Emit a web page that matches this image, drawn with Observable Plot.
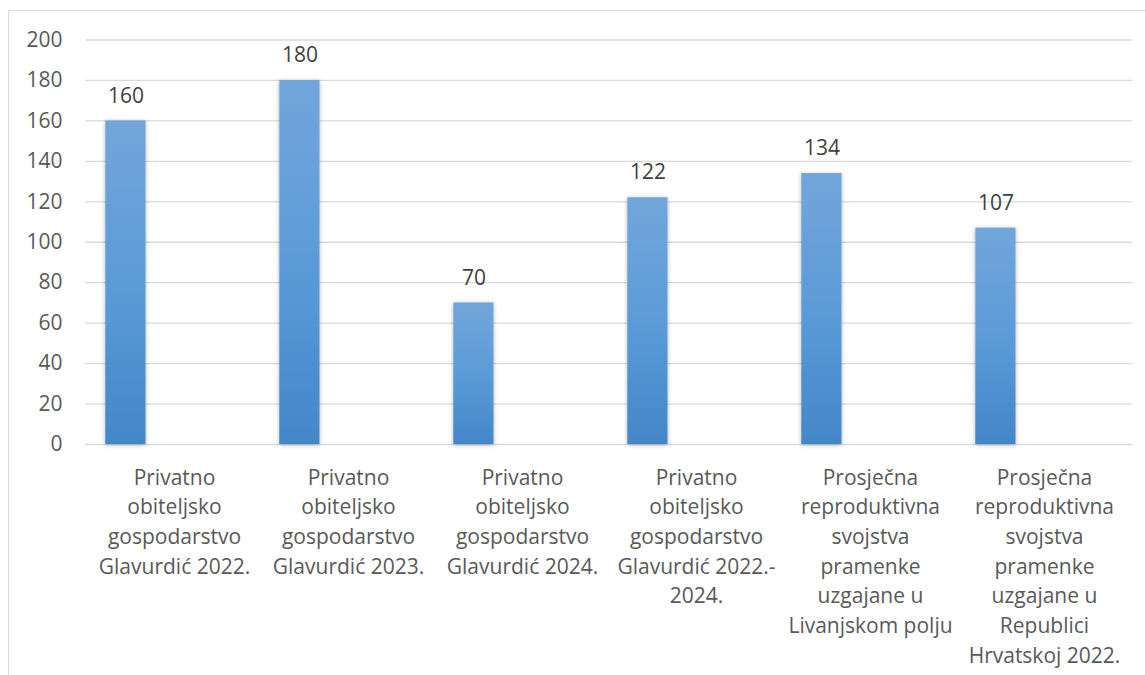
<!DOCTYPE html>
<html><head><meta charset="utf-8">
<script src="https://cdn.jsdelivr.net/npm/d3@7"></script>
<script src="https://cdn.jsdelivr.net/npm/@observablehq/plot@0.6"></script>
<style>
body{margin:0;background:#fff;}
#wrap{position:relative;width:1145px;height:675px;overflow:hidden;}
#frame{position:absolute;left:8px;top:10px;width:1200px;height:720px;border:1px solid #d9d9d9;box-sizing:border-box;}
#chart{position:absolute;left:0;top:0;}
</style></head><body><div id="wrap"><div id="frame"></div><div id="chart"></div></div>
<script>
const categories = [
  "Privatno\nobiteljsko\ngospodarstvo\nGlavurdić 2022.",
  "Privatno\nobiteljsko\ngospodarstvo\nGlavurdić 2023.",
  "Privatno\nobiteljsko\ngospodarstvo\nGlavurdić 2024.",
  "Privatno\nobiteljsko\ngospodarstvo\nGlavurdić 2022.-\n2024.",
  "Prosječna\nreproduktivna\nsvojstva\npramenke\nuzgajane u\nLivanjskom polju",
  "Prosječna\nreproduktivna\nsvojstva\npramenke\nuzgajane u\nRepublici\nHrvatskoj 2022."
];
const values = [160, 180, 70, 122, 134, 107];
const yTicks = [0, 20, 40, 60, 80, 100, 120, 140, 160, 180, 200];

const data = categories.map((c, i) => ({category: c, value: values[i]}));

const bandW = (1132 - 85) / 6;
const barOff = 18.3, barW = 40.7;

const defs = () => {
  const g = d3.create("svg:defs");
  const lg = g.append("linearGradient").attr("id", "barGrad")
    .attr("x1", 0).attr("y1", 0).attr("x2", 0).attr("y2", 1);
  lg.append("stop").attr("offset", "0%").attr("stop-color", "#72a6da");
  lg.append("stop").attr("offset", "50%").attr("stop-color", "#5c9bd8");
  lg.append("stop").attr("offset", "100%").attr("stop-color", "#4387c8");
  const f = g.append("filter").attr("id", "shadow")
    .attr("x", "-30%").attr("y", "-10%").attr("width", "160%").attr("height", "120%");
  f.append("feDropShadow").attr("dx", 0).attr("dy", 1).attr("stdDeviation", 2)
    .attr("flood-color", "#000").attr("flood-opacity", 0.3);
  return g.node();
};

const chart = Plot.plot({
  width: 1145,
  height: 675,
  marginLeft: 85,
  marginRight: 13,
  marginTop: 39.5,
  marginBottom: 231,
  style: {fontFamily: "'Open Sans', sans-serif", fontSize: "21px", color: "#595959", background: "transparent"},
  x: {domain: categories, padding: 0, axis: null},
  y: {domain: [0, 200], axis: null},
  marks: [
    defs,
    Plot.gridY(yTicks, {stroke: "#d9d9d9", strokeOpacity: 1, strokeWidth: 1.3}),
    Plot.axisY(yTicks, {tickSize: 0, tickPadding: 23, fill: "#595959", fontSize: 21, label: null}),
    Plot.barY(data, {
      x: "category", y: "value", fill: "url(#barGrad)",
      insetLeft: barOff, insetRight: bandW - barOff - barW
    }),
    Plot.text(data, {
      x: "category", y: "value", text: d => String(d.value),
      dx: barOff + barW / 2 - bandW / 2, dy: -25,
      fill: "#404040", fontSize: 21
    }),
    Plot.axisX({
      tickSize: 0, tickPadding: 19, lineAnchor: "top", lineHeight: 1.414,
      fill: "#595959", fontSize: 21, tickFormat: d => d, label: null
    })
  ]
});
d3.select(chart).selectAll("g[aria-label='bar'] rect").attr("filter", "url(#shadow)");
document.getElementById("chart").appendChild(chart);
</script>
</body></html>
